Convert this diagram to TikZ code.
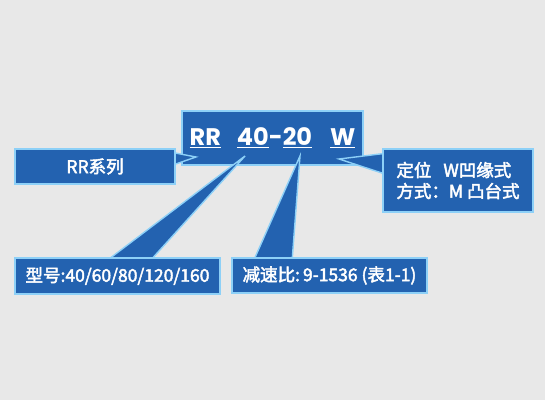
\documentclass[tikz,border=0pt]{standalone}
\usepackage{fontspec}
\setmainfont{Noto Sans CJK SC}
\newfontfamily\codefont{Poppins}
\newcommand\heavytext[1]{\special{pdf:literal direct 2 Tr 0.45 w}#1\special{pdf:literal direct 0 Tr}}
\definecolor{boxblue}{HTML}{2362B0}
\definecolor{edgeblue}{HTML}{8DD0F7}
\definecolor{bggray}{HTML}{E8E8E8}
\begin{document}
\begin{tikzpicture}[x=1pt, y=-1pt,
    every node/.style={font=\fontsize{17.5}{21}\selectfont, text=white},
    callbox/.style={draw=edgeblue, fill=boxblue, line width=1.6pt, inner sep=0pt},
    wedge/.style={draw=edgeblue, fill=boxblue, line width=1.4pt, line join=miter}]
    \fill[bggray] (0,0) rectangle (545,400);
    \useasboundingbox (0,0) rectangle (545,400);
    % main code box
    \node[callbox, minimum width=181pt, minimum height=54pt] (code) at (272.5,138)
      {\codefont\bfseries\fontsize{24}{28}\selectfont\underline{RR}\hspace{16pt}\underline{40}-\underline{20}\hspace{18pt}\underline{W}};
    % pointer corners
    \coordinate (tipRR) at (196,157);
    \coordinate (rrA) at (170,152);
    \coordinate (rrB) at (170,166);
    \coordinate (tipW) at (339,159);
    \coordinate (wA) at (388,153);
    \coordinate (wB) at (388,175);
    \coordinate (tip40) at (245,156);
    \coordinate (mA) at (149,262);
    \coordinate (mB) at (105,262);
    \coordinate (tip20) at (300,156);
    \coordinate (rA) at (292,262);
    \coordinate (rB) at (253,262);
    \draw[wedge] (rrA) -- (tipRR) -- (rrB);
    \draw[wedge] (tipW) -- (wA) -- (wB) -- cycle;
    \draw[wedge] (tip40) -- (mA) -- (mB) -- cycle;
    \draw[wedge] (tip20) -- (rA) -- (rB) -- cycle;
    % callouts
    \node[callbox, minimum width=160pt, minimum height=35pt] (series) at (95,166.5) {\heavytext{RR系列}};
    \node[callbox, minimum width=150pt, minimum height=63pt, align=left] (mount) at (458,180.5)
      {\heavytext{定位\hspace{12pt}W凹缘式}\\\heavytext{方式：M 凸台式}};
    \node[callbox, minimum width=205pt, minimum height=36pt] (model) at (117.5,276)
      {\heavytext{型号:40/60/80/120/160}};
    \node[callbox, minimum width=195pt, minimum height=35pt] (ratio) at (329.5,275.5)
      {\heavytext{减速比:\hspace{3pt}9-1536 (表1-1)}};
\end{tikzpicture}
\end{document}
